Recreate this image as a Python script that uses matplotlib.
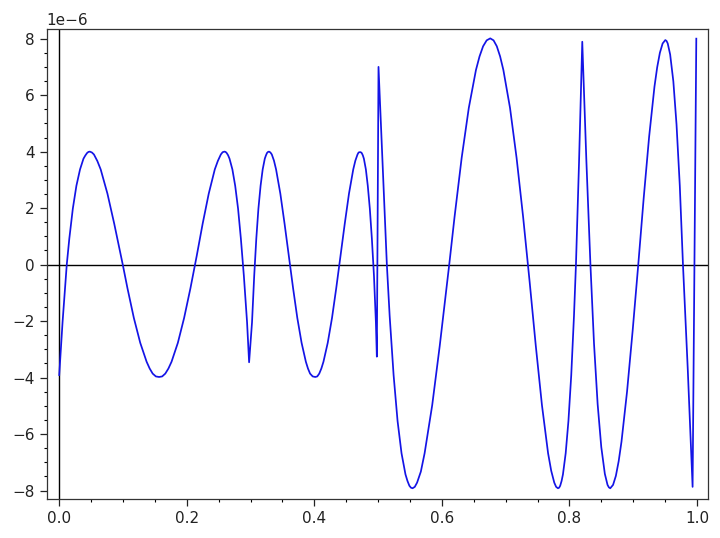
import numpy as np
import matplotlib.pyplot as plt
from matplotlib.ticker import MultipleLocator

# curve, one piece per interval, y in units of 1e-6
seg1_x = [0.0, 0.0052, 0.0104, 0.0118, 0.0158, 0.0213, 0.0269, 0.0326, 0.0380, 0.0408,
          0.0436, 0.0458, 0.0480, 0.0512, 0.0544, 0.0597, 0.0650, 0.0756, 0.0862, 0.0968,
          0.0996, 0.1070, 0.1170, 0.1270, 0.1370, 0.1418, 0.1465, 0.1515, 0.1565, 0.1614,
          0.1663, 0.1712, 0.1761, 0.1860, 0.1958, 0.2057, 0.2130, 0.2155, 0.2249, 0.2344,
          0.2439, 0.2487, 0.2534, 0.2562, 0.2590, 0.2608, 0.2626, 0.2648, 0.2670, 0.2715,
          0.2759, 0.2804, 0.2848, 0.2880, 0.2895, 0.2945, 0.2977]
seg1_y = [-3.91, -2.04, -0.40, 0.0, 0.92, 1.98, 2.79, 3.37, 3.75, 3.86,
          3.95, 3.99, 4.00, 3.97, 3.90, 3.67, 3.37, 2.51, 1.45, 0.30,
          0.0, -0.84, -1.89, -2.77, -3.44, -3.68, -3.86, -3.96, -3.98, -3.96,
          -3.86, -3.68, -3.44, -2.77, -1.89, -0.84, 0.0, 0.30, 1.45, 2.51,
          3.37, 3.67, 3.90, 3.98, 4.00, 3.99, 3.95, 3.87, 3.75, 3.37,
          2.79, 1.98, 0.92, 0.0, -0.40, -2.04, -3.46]

seg2_x = [0.3023, 0.3057, 0.3090, 0.3123, 0.3157, 0.3190, 0.3223, 0.3240, 0.3257, 0.3274,
          0.3290, 0.3311, 0.3333, 0.3367, 0.3400, 0.3467, 0.3533, 0.3600, 0.3667, 0.3733,
          0.3800, 0.3867, 0.3900, 0.3933, 0.3974, 0.4015, 0.4046, 0.4077, 0.4110, 0.4143,
          0.4210, 0.4277, 0.4343, 0.4410, 0.4477, 0.4543, 0.4610, 0.4643, 0.4677, 0.4694,
          0.4710, 0.4727, 0.4743, 0.4760, 0.4777, 0.4808, 0.4838, 0.4870, 0.4902, 0.4935,
          0.4965, 0.4980, 0.5006]
seg2_y = [-2.04, -0.40, 0.92, 1.98, 2.79, 3.37, 3.75, 3.86, 3.95, 3.99,
          4.00, 3.97, 3.90, 3.68, 3.37, 2.51, 1.45, 0.30, -0.84, -1.89,
          -2.77, -3.44, -3.68, -3.86, -3.96, -3.98, -3.96, -3.86, -3.68, -3.44,
          -2.77, -1.89, -0.84, 0.30, 1.45, 2.51, 3.37, 3.68, 3.90, 3.97,
          3.98, 3.98, 3.95, 3.87, 3.75, 3.37, 2.79, 1.98, 0.92, -0.40,
          -2.04, -3.26, 7.00]

seg3_x = [0.5070, 0.5137, 0.5181, 0.5243, 0.5305, 0.5367, 0.5429, 0.5460, 0.5490, 0.5515,
          0.5540, 0.5575, 0.5611, 0.5670, 0.5729, 0.5848, 0.5966, 0.6085, 0.6115, 0.6198,
          0.6310, 0.6422, 0.6534, 0.6590, 0.6646, 0.6702, 0.6758, 0.6810, 0.6861, 0.6913,
          0.6964, 0.7068, 0.7171, 0.7274, 0.7350, 0.7375, 0.7472, 0.7569, 0.7665, 0.7714,
          0.7762, 0.7791, 0.7820, 0.7838, 0.7855, 0.7877, 0.7898, 0.7941, 0.7984, 0.8028,
          0.8071, 0.8102, 0.8150, 0.8201]
seg3_y = [3.60, 0.0, -1.82, -3.92, -5.54, -6.68, -7.43, -7.66, -7.83, -7.90,
          -7.92, -7.87, -7.72, -7.33, -6.68, -4.98, -2.88, -0.60, 0.0, 1.68,
          3.78, 5.55, 6.89, 7.37, 7.73, 7.94, 8.01, 7.94, 7.73, 7.37,
          6.89, 5.55, 3.78, 1.68, 0.0, -0.59, -2.87, -4.98, -6.68, -7.30,
          -7.72, -7.87, -7.92, -7.90, -7.83, -7.66, -7.43, -6.68, -5.54, -3.92,
          -1.82, 0.0, 3.60, 7.89]

seg4_x = [0.8265, 0.8329, 0.8385, 0.8442, 0.8499, 0.8555, 0.8597, 0.8619, 0.8640, 0.8684,
          0.8728, 0.8772, 0.8816, 0.8903, 0.8991, 0.9079, 0.9164, 0.9249, 0.9333, 0.9376,
          0.9418, 0.9461, 0.9503, 0.9522, 0.9541, 0.9579, 0.9629, 0.9679, 0.9730, 0.9780,
          0.9855, 0.9931, 0.9989]
seg4_y = [3.70, 0.0, -2.79, -4.94, -6.46, -7.41, -7.80, -7.89, -7.92, -7.80,
          -7.48, -6.96, -6.27, -4.50, -2.34, 0.0, 2.35, 4.52, 6.30, 6.99,
          7.50, 7.83, 7.95, 7.92, 7.83, 7.44, 6.49, 4.96, 2.80, 0.0,
          -3.70, -7.87, 8.00]


def main():
    x = np.array(seg1_x + seg2_x + seg3_x + seg4_x)
    y = np.array(seg1_y + seg2_y + seg3_y + seg4_y) * 1e-6

    fig = plt.figure(figsize=(7.2, 5.38), dpi=100)
    ax = fig.add_axes([0.065, 0.0725, 0.919, 0.8735])

    # axes through the origin, sage style
    ax.axhline(0, color='black', lw=1.0, zorder=1)
    ax.axvline(0, color='black', lw=1.0, zorder=1)
    ax.plot(x, y, color='#1414e6', lw=1.25, zorder=2)

    ax.set_xlim(-0.0195, 1.018)
    ax.set_ylim(-8.30e-6, 8.34e-6)

    ax.xaxis.set_major_locator(MultipleLocator(0.2))
    ax.xaxis.set_minor_locator(MultipleLocator(0.05))
    ax.yaxis.set_major_locator(MultipleLocator(2e-6))
    ax.yaxis.set_minor_locator(MultipleLocator(0.5e-6))
    ax.tick_params(which='major', length=5, width=0.9, labelsize=11, colors='#222222')
    ax.tick_params(which='minor', length=2.5, width=0.8)
    ax.yaxis.get_offset_text().set_fontsize(11)

    for sp in ax.spines.values():
        sp.set_color('#333333')
        sp.set_linewidth(0.9)

    fig.savefig('out.png', dpi=100)


if __name__ == "__main__":
    main()
